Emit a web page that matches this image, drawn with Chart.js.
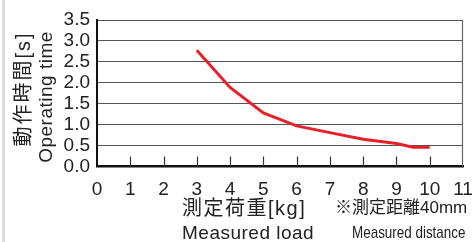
<!DOCTYPE html>
<html>
<head>
<meta charset="utf-8">
<script src="https://cdn.jsdelivr.net/npm/chart.js@4.4.0/dist/chart.umd.min.js"></script>
<style>
  html, body { margin: 0; padding: 0; background: #fff; }
  #wrap { position: relative; width: 475px; height: 242px; overflow: hidden; }
  #chart { position: absolute; left: 0; top: 0; }
  .edge { position: absolute; left: 2px; top: 0; width: 3px; height: 242px; background: #dcdcdc; }
  .lbl { position: absolute; white-space: nowrap; color: #222;
         font-family: 'Liberation Sans', 'Noto Sans CJK JP', sans-serif; line-height: 1; }
  .rot { transform: translate(-50%, -50%) rotate(-90deg); }
</style>
</head>
<body>
<div id="wrap">
  <div class="edge"></div>
  <canvas id="chart" width="475" height="242"></canvas>
  <div class="lbl rot" style="left:23px;top:89px;font-size:20px;letter-spacing:2px;">動作時間[s]</div>
  <div class="lbl rot" style="left:45px;top:97px;font-size:19px;letter-spacing:0.5px;">Operating time</div>
  <div class="lbl" style="left:182px;top:198px;font-size:20px;letter-spacing:1.5px;">測定荷重[kg]</div>
  <div class="lbl" style="left:182px;top:223px;font-size:19px;letter-spacing:0.5px;">Measured load</div>
  <div class="lbl" style="left:335px;top:199px;font-size:17px;">※測定距離40mm</div>
  <div class="lbl" style="left:352px;top:224px;font-size:17px;transform:scaleX(0.79);transform-origin:left top;">Measured distance</div>
</div>
<script>
// measured load [kg] vs operating time [s]
const loads = [3, 4, 5, 6, 7, 8, 9, 9.5, 10];
const times = [2.78, 1.89, 1.28, 0.97, 0.81, 0.65, 0.55, 0.46, 0.46];

const xMin = 0, xMax = 11;
const yMin = 0, yMax = 3.5;

const FONT = "'Liberation Sans', Arial, sans-serif";

// short tick marks pointing up from the x axis, plus the right frame line
const frame = {
  id: 'frame',
  afterDraw(chart) {
    const { ctx, chartArea } = chart;
    const xs = chart.scales.x;
    ctx.save();
    ctx.strokeStyle = '#333';
    ctx.lineWidth = 1.2;
    for (let v = xMin + 1; v < xMax; v++) {
      const px = Math.round(xs.getPixelForValue(v)) + 0.5;
      ctx.beginPath();
      ctx.moveTo(px, chartArea.bottom);
      ctx.lineTo(px, chartArea.bottom - 10);
      ctx.stroke();
    }
    ctx.strokeStyle = '#666';
    const rx = Math.round(xs.getPixelForValue(xMax)) - 0.5;
    ctx.beginPath();
    ctx.moveTo(rx, chartArea.top);
    ctx.lineTo(rx, chartArea.bottom);
    ctx.stroke();
    ctx.restore();
  }
};

new Chart(document.getElementById('chart').getContext('2d'), {
  type: 'line',
  data: {
    datasets: [{
      data: loads.map((x, i) => ({ x, y: times[i] })),
      borderColor: '#e8202a',
      borderWidth: 3,
      pointRadius: 0,
      tension: 0,
      fill: false
    }]
  },
  options: {
    responsive: false,
    animation: false,
    layout: { padding: { left: 0, top: 20, right: 0, bottom: 0 } },
    plugins: { legend: { display: false }, tooltip: { enabled: false } },
    scales: {
      x: {
        type: 'linear',
        min: xMin,
        max: xMax,
        afterFit: s => { s.height = 75.5; s.paddingLeft = 0; s.paddingRight = 12; },
        border: { color: '#111', width: 2.5 },
        grid: { display: false },
        ticks: {
          stepSize: 1,
          autoSkip: false,
          padding: 4,
          color: '#222',
          font: { family: FONT, size: 19 },
          maxRotation: 0
        }
      },
      y: {
        min: yMin,
        max: yMax,
        afterFit: s => { s.width = 97; },
        border: { color: '#111', width: 2 },
        grid: { color: '#555', lineWidth: 1, drawTicks: false },
        ticks: {
          stepSize: 0.5,
          autoSkip: false,
          padding: 7,
          color: '#222',
          font: { family: FONT, size: 19 },
          callback: v => v.toFixed(1)
        }
      }
    }
  },
  plugins: [frame]
});
</script>
</body>
</html>
